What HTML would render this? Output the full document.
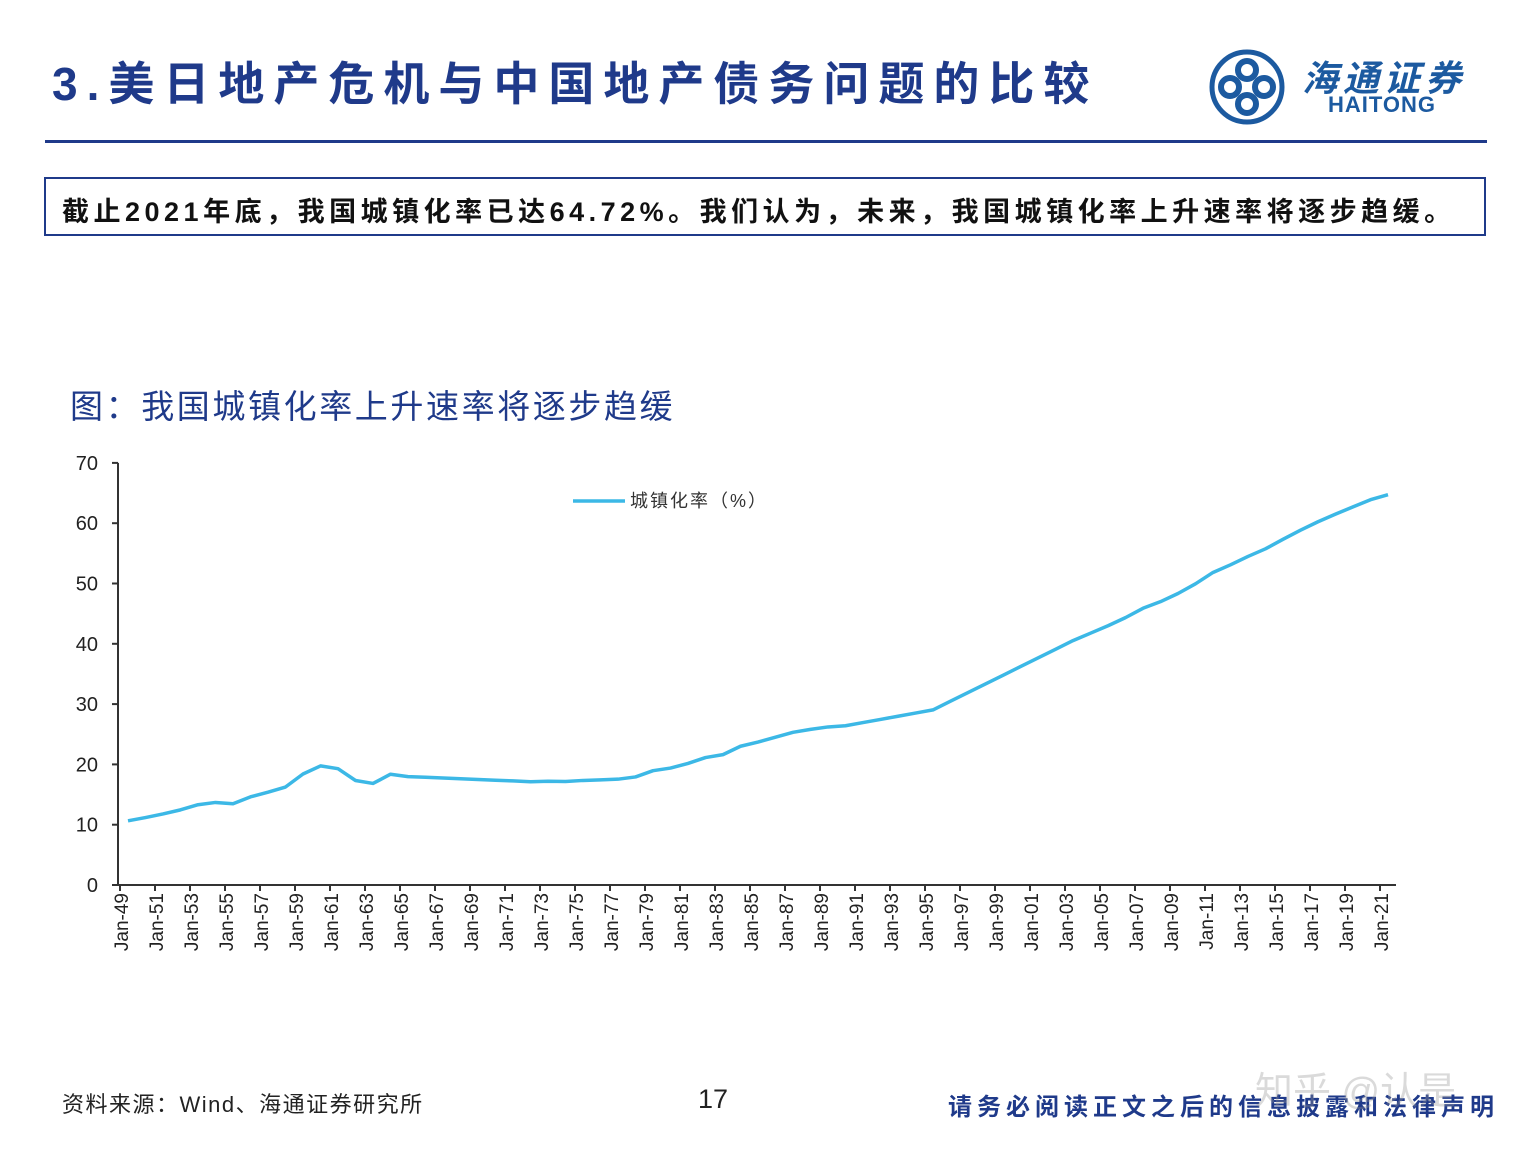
<!DOCTYPE html>
<html><head><meta charset="utf-8"><style>
body{margin:0;width:1538px;height:1153px;background:#fff;position:relative;overflow:hidden;font-family:"Liberation Sans","Noto Sans CJK SC",sans-serif}
.abs{position:absolute;white-space:nowrap}
</style></head><body>
<div class="abs" style="left:52px;top:48px;font-size:46px;font-weight:bold;color:#1f3a8a;letter-spacing:9px">3.美日地产危机与中国地产债务问题的比较</div>
<svg class="abs" style="left:1208px;top:48px" width="78" height="78" viewBox="0 0 78 78"><circle cx="39" cy="39" r="35" fill="none" stroke="#1c5aa0" stroke-width="5"/><circle cx="39" cy="22" r="9" fill="none" stroke="#1c5aa0" stroke-width="6"/><circle cx="39" cy="56" r="9" fill="none" stroke="#1c5aa0" stroke-width="6"/><circle cx="22" cy="39" r="9" fill="none" stroke="#1c5aa0" stroke-width="6"/><circle cx="56" cy="39" r="9" fill="none" stroke="#1c5aa0" stroke-width="6"/></svg>
<div class="abs" style="left:1302px;top:50px;font-size:36px;color:#1c5aa0;font-style:italic;font-weight:bold;letter-spacing:5px">海通证券</div>
<div class="abs" style="left:1328px;top:92px;font-size:22px;color:#1c5aa0;font-weight:bold;letter-spacing:1px">HAITONG</div>
<div class="abs" style="left:45px;top:140px;width:1442px;height:3px;background:#1f3a8a"></div>
<div class="abs" style="left:44px;top:177px;width:1438px;height:55px;border:2px solid #1f3a8a;box-sizing:content-box"></div>
<div class="abs" style="left:62px;top:190px;font-size:27px;font-weight:bold;color:#111;letter-spacing:4.5px">截止2021年底，我国城镇化率已达64.72%。我们认为，未来，我国城镇化率上升速率将逐步趋缓。</div>
<div class="abs" style="left:70px;top:380px;font-size:33px;color:#1f3a8a;letter-spacing:2.6px">图：我国城镇化率上升速率将逐步趋缓</div>
<svg class="abs" style="left:0;top:0" width="1538" height="1153" id="chart"></svg>
<div class="abs" style="left:62px;top:1087px;font-size:22px;color:#222;letter-spacing:1.5px">资料来源：Wind、海通证券研究所</div>
<div class="abs" style="left:698px;top:1084px;font-size:27px;color:#222">17</div>
<div class="abs" style="left:948px;top:1087px;font-size:24px;font-weight:bold;color:#1f3a8a;letter-spacing:5px">请务必阅读正文之后的信息披露和法律声明</div>
<div class="abs" style="left:1255px;top:1060px;font-size:38px;color:rgba(150,150,150,0.35)">知乎 @认是</div>
<script>
const years=[];for(let y=1949;y<=2021;y++)years.push(y);
const rates=[10.64,11.18,11.78,12.46,13.31,13.69,13.48,14.62,15.39,16.25,18.41,19.75,19.29,17.33,16.84,18.37,17.98,17.86,17.74,17.62,17.50,17.38,17.26,17.13,17.20,17.16,17.34,17.44,17.55,17.92,18.96,19.39,20.16,21.13,21.62,23.01,23.71,24.52,25.32,25.81,26.21,26.41,26.94,27.46,27.99,28.51,29.04,30.48,31.91,33.35,34.78,36.22,37.66,39.09,40.53,41.76,42.99,44.34,45.89,46.99,48.34,49.95,51.83,53.10,54.49,55.75,57.33,58.84,60.24,61.50,62.71,63.89,64.72];
const yTicks=[0,10,20,30,40,50,60,70];
const NS='http://www.w3.org/2000/svg';const svg=document.getElementById('chart');
const X=y=>120+(y-1949)*17.5;const Y=v=>885-v*6.03;
function mk(t,a){const e=document.createElementNS(NS,t);for(const k in a)e.setAttribute(k,a[k]);svg.appendChild(e);return e;}
let ax=mk('line',{x1:118,y1:Y(70),x2:118,y2:885,stroke:'#333','stroke-width':2});

let bx=mk('line',{x1:118,y1:885,x2:1396,y2:885,stroke:'#333','stroke-width':2});

yTicks.forEach(v=>{let l=mk('line',{x1:112,x2:118,y1:Y(v),y2:Y(v),stroke:'#333','stroke-width':2});

let t=mk('text',{x:98,y:Y(v)+7,'text-anchor':'end','font-size':20,fill:'#222','font-family':'Liberation Sans'});t.textContent=v;
});
for(let y=1949;y<=2021;y+=2){const x=X(y);
let l=mk('line',{x1:x,x2:x,y1:885,y2:891,stroke:'#333','stroke-width':2});

let t=mk('text',{x:0,y:0,'text-anchor':'end','font-size':19,fill:'#222','font-family':'Liberation Sans',transform:`translate(${x+8},893) rotate(-90)`});
t.textContent='Jan-'+String(y%100).padStart(2,'0');
}
const pts=years.map((y,i)=>`${X(y)+8},${Y(rates[i])}`).join(' ');
let p=mk('polyline',{points:pts,fill:'none',stroke:'#3cb8e6','stroke-width':3.5,'stroke-linejoin':'round'});

let ll=mk('line',{x1:573,x2:625,y1:501,y2:501,stroke:'#3cb8e6','stroke-width':3.5});

let lt=mk('text',{x:630,y:507,'font-size':18,fill:'#333','font-family':'Liberation Sans, Noto Sans CJK SC, sans-serif','letter-spacing':2});lt.textContent='城镇化率（%）';

</script>
</body></html>
